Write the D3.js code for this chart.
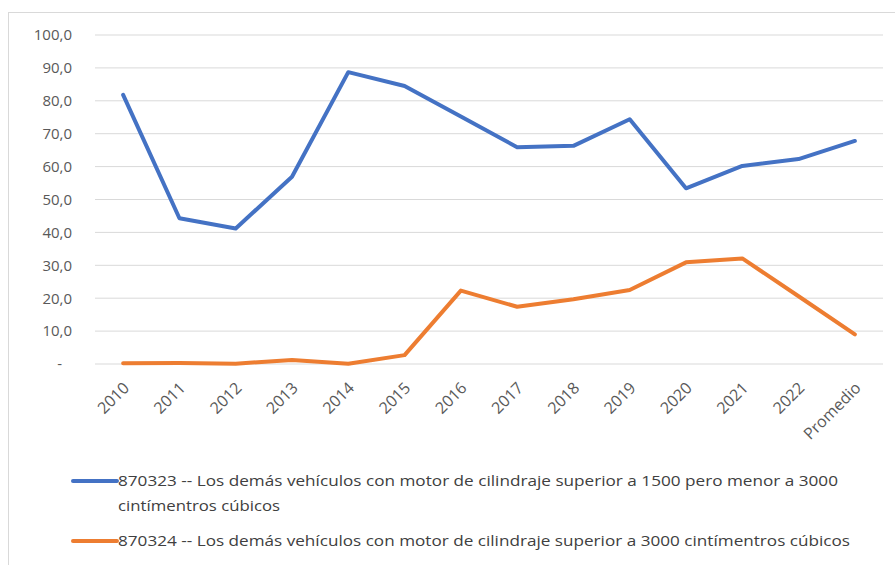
<!DOCTYPE html>
<html><head><meta charset="utf-8">
<script src="https://cdn.jsdelivr.net/npm/d3@7"></script>
<style>
body{margin:0;background:#fff;}
text{font-family:"Open Sans","Liberation Sans",sans-serif;}
</style></head>
<body><svg id="c" width="895" height="565"></svg>
<script>
const categories = ["2010","2011","2012","2013","2014","2015","2016","2017","2018","2019","2020","2021","2022","Promedio"];
const series1Name = "870323 -- Los demás vehículos con motor de cilindraje superior a 1500 pero menor a 3000 cintímentros cúbicos";
const series1 = [81.8, 44.3, 41.2, 56.9, 88.7, 84.5, 75.2, 65.9, 66.3, 74.4, 53.4, 60.2, 62.3, 67.8];
const series2Name = "870324 -- Los demás vehículos con motor de cilindraje superior a 3000 cintímentros cúbicos";
const series2 = [0.2, 0.3, 0.1, 1.2, 0.1, 2.7, 22.3, 17.4, 19.7, 22.5, 30.9, 32.1, 20.6, 9.0];
const yTicks = [0,10,20,30,40,50,60,70,80,90,100];
const colors = ["#4472C4", "#ED7D31"];

const svg = d3.select("#c");
// chart border
svg.append("rect").attr("x",8.5).attr("y",12.5).attr("width",900).attr("height",600)
  .attr("fill","none").attr("stroke","#d9d9d9");

const x = d3.scaleBand().domain(categories).range([95, 883]);
const y = d3.scaleLinear().domain([0,100]).range([364, 35]);

// gridlines
svg.append("g").selectAll("line").data(yTicks).join("line")
  .attr("x1",95).attr("x2",883).attr("y1",d=>y(d)).attr("y2",d=>y(d))
  .attr("stroke","#d9d9d9").attr("stroke-width",1);

// y axis labels
const yAxis = d3.axisLeft(y).tickValues(yTicks).tickSize(0).tickPadding(0)
  .tickFormat(d => d===0 ? "-" : d3.format(".1f")(d).replace(".", ","));
const gy = svg.append("g").attr("transform","translate(72,0)").call(yAxis);
gy.select(".domain").remove();
gy.selectAll("text").attr("fill","#595959").style("font-size","15px")
  .attr("x", d => d===0 ? -10 : 0);

// x axis labels
const xAxis = d3.axisBottom(x).tickSize(0).tickPadding(0);
const gx = svg.append("g").attr("transform","translate(0,364)").call(xAxis);
gx.select(".domain").remove();
gx.selectAll("text").attr("fill","#595959").style("font-size","16px")
  .attr("text-anchor","end").attr("dy","0.35em").attr("y",0)
  .attr("transform","translate(3,21) rotate(-45)");

const line = d3.line().x((d,i)=>x(categories[i]) + x.bandwidth()/2).y(d=>y(d));
[series1, series2].forEach((s,i)=>{
  svg.append("path").datum(s).attr("d", line).attr("fill","none")
    .attr("stroke", colors[i]).attr("stroke-width",4).attr("stroke-linejoin","round").attr("stroke-linecap","round");
});

// legend
const leg = svg.append("g");
function legItem(yc, lines, color){
  leg.append("line").attr("x1",73).attr("x2",117).attr("y1",yc).attr("y2",yc)
    .attr("stroke",color).attr("stroke-width",4).attr("stroke-linecap","round");
  lines.forEach((t,k)=>{
    const tx = leg.append("text").attr("x",118).attr("y",yc+5+k*24.5)
      .attr("fill","#404040").style("font-size","15px").text(t.s);
    if (t.w) tx.attr("textLength", t.w).attr("lengthAdjust","spacingAndGlyphs");
  });
}
const s1a = series1Name.split(" 3000 ")[0] + " 3000";
const s1b = series1Name.split(" 3000 ")[1];
legItem(481, [{s:s1a, w:720},{s:s1b, w:162}], colors[0]);
legItem(541, [{s:series2Name, w:732}], colors[1]);
</script></body></html>
